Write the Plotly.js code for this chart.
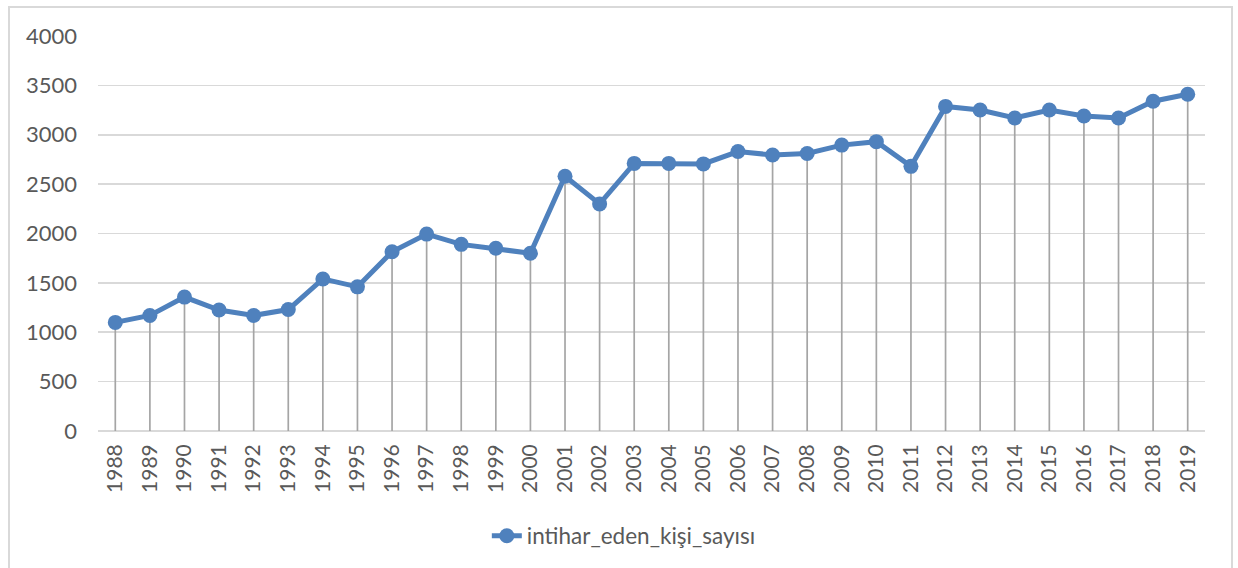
<!DOCTYPE html>
<html>
<head>
<meta charset="utf-8">
<script src="https://cdn.plot.ly/plotly-3.0.1.min.js"></script>
<style>
  html, body { margin: 0; padding: 0; background: #ffffff; overflow: hidden; }
  #frame { position: absolute; left: 8px; top: 6px; width: 1221px; height: 570px;
           border: 2px solid #d9d9d9; background: #ffffff; }
  #chart { width: 1221px; height: 570px; }
</style>
</head>
<body>
<div id="frame"><div id="chart"></div></div>
<script>
const years = ["1988","1989","1990","1991","1992","1993","1994","1995","1996","1997",
  "1998","1999","2000","2001","2002","2003","2004","2005","2006","2007","2008","2009",
  "2010","2011","2012","2013","2014","2015","2016","2017","2018","2019"];
const suicides = [1100,1170,1356,1225,1170,1230,1540,1460,1815,1994,
  1890,1850,1800,2580,2300,2710,2710,2705,2830,2795,2810,2895,
  2930,2680,3287,3250,3170,3250,3190,3170,3340,3410];
const seriesName = "intihar_eden_kişi_sayısı";
const yTicks = [0,500,1000,1500,2000,2500,3000,3500,4000];

// drop lines from each point down to the axis
const dropX = [], dropY = [];
years.forEach((yr, i) => { dropX.push(yr, yr, null); dropY.push(0, suicides[i], null); });

const font = "Lato, 'Open Sans', sans-serif";
const traces = [
  { x: dropX, y: dropY, type: "scatter", mode: "lines", showlegend: false, hoverinfo: "skip",
    line: { color: "#a5a5a5", width: 1.7 } },
  { x: years, y: suicides, type: "scatter", mode: "lines+markers", name: seriesName,
    line: { color: "#4f81bd", width: 5 },
    marker: { color: "#4f81bd", size: 15, symbol: "circle" } }
];

const layout = {
  width: 1221, height: 570,
  margin: { l: 88, r: 26, t: 28, b: 147 },
  paper_bgcolor: "#ffffff", plot_bgcolor: "#ffffff",
  font: { family: font, color: "#595959" },
  xaxis: {
    type: "category", range: [-0.5, 31.5], tickangle: -90,
    showgrid: false, showline: false, zeroline: false, ticks: "",
    ticklabelstandoff: 8,
    tickfont: { family: font, size: 21, color: "#595959" }
  },
  yaxis: {
    range: [0, 4000], tickvals: yTicks, ticktext: yTicks.map(String),
    showgrid: true, gridcolor: "#d9d9d9", gridwidth: 1.6,
    zeroline: true, zerolinecolor: "#d9d9d9", zerolinewidth: 1.6,
    showline: false, ticks: "", ticklabelstandoff: 20,
    tickfont: { family: font, size: 22, color: "#595959" }
  },
  legend: {
    orientation: "h", x: 0.475, xanchor: "center", y: -0.266, yanchor: "middle",
    font: { family: font, size: 22.5, color: "#595959" }, bgcolor: "rgba(0,0,0,0)"
  },
  showlegend: true
};

Plotly.newPlot("chart", traces, layout, { displayModeBar: false, staticPlot: true });
</script>
</body>
</html>
